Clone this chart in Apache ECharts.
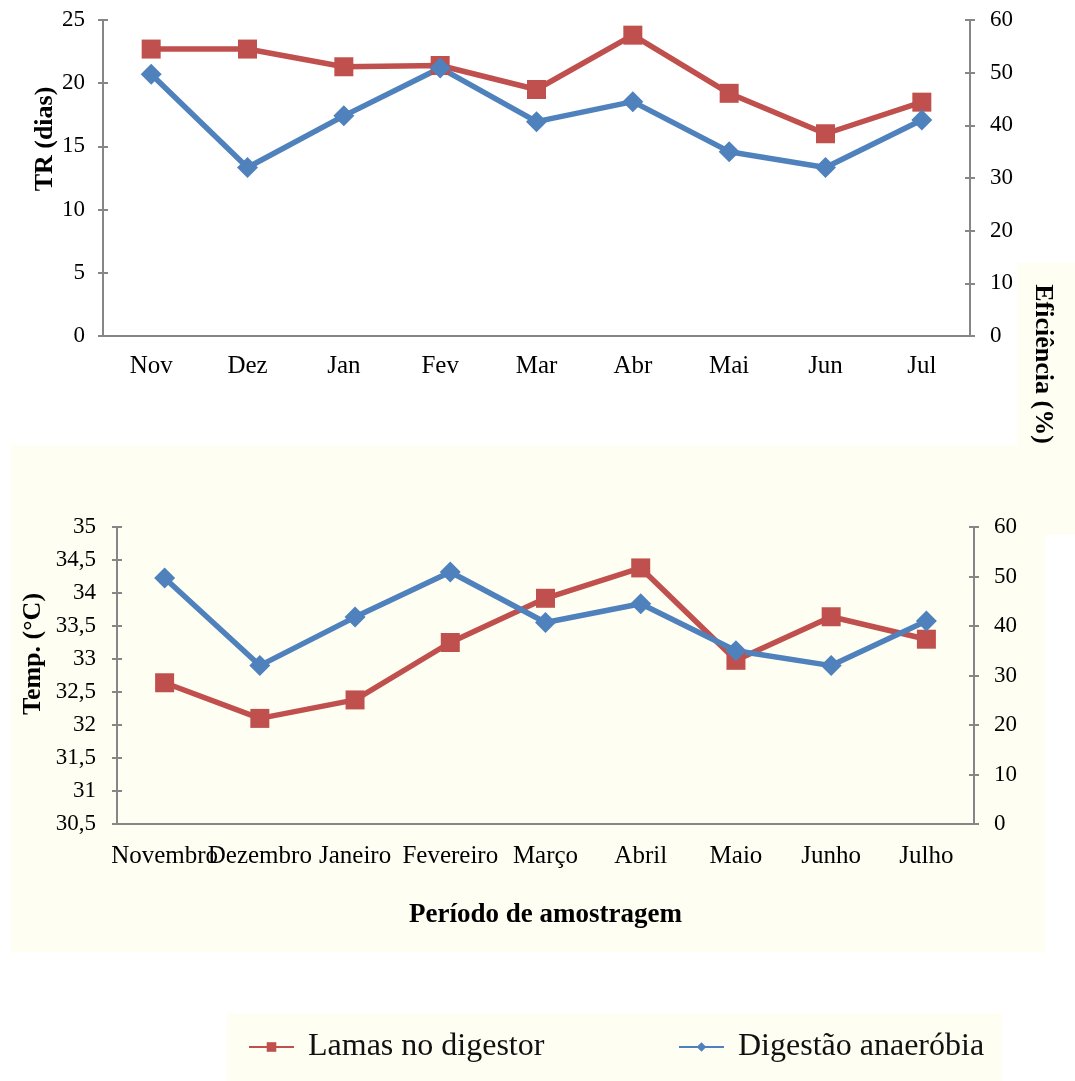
<!DOCTYPE html>
<html>
<head>
<meta charset="utf-8">
<script src="https://cdn.jsdelivr.net/npm/echarts@6/dist/echarts.min.js"></script>
<style>
  html, body { margin: 0; background: #fff; }
  #chart { width: 1075px; height: 1081px; }
</style>
</head>
<body>
<div id="chart"></div>
<script>
// Two stacked panels sharing the efficiency series: TR (top) and digester temperature (bottom).
const mesesCurtos = ['Nov', 'Dez', 'Jan', 'Fev', 'Mar', 'Abr', 'Mai', 'Jun', 'Jul'];
const mesesLongos = ['Novembro', 'Dezembro', 'Janeiro', 'Fevereiro', 'Março', 'Abril', 'Maio', 'Junho', 'Julho'];
const trDias = [22.7, 22.7, 21.3, 21.4, 19.5, 23.8, 19.2, 16.0, 18.5];
const tempLamas = [32.64, 32.1, 32.38, 33.25, 33.92, 34.38, 32.98, 33.64, 33.3];
const eficiencia = [49.7, 32.0, 41.8, 50.9, 40.7, 44.5, 35.0, 32.0, 41.0];
const serieNomes = ['Lamas no digestor', 'Digestão anaeróbia'];

const SERIF = '"Liberation Serif", "Times New Roman", serif';
const GREY = '#868686';
const RED = '#C0504D';
const BLUE = '#4F81BD';
const CREAM = '#FFFEF3';

const virgula = (v) => String(v).replace('.', ',');

// Excel-style "cross" ticks: one axis draws line, labels and outer ticks,
// a twin draws only the inner half of the ticks.
function eixoValor(grid, side, min, max, interval, margin, fmt) {
  return {
    type: 'value', gridIndex: grid, position: side, min, max, interval,
    axisLine: { show: true, lineStyle: { color: GREY, width: 2 } },
    axisTick: { show: true, length: 5, lineStyle: { color: GREY, width: 2 } },
    axisLabel: { color: '#000', fontFamily: SERIF, fontSize: 23, margin, formatter: fmt },
    splitLine: { show: false },
  };
}
function eixoTicksDentro(grid, side, min, max, interval) {
  return {
    type: 'value', gridIndex: grid, position: side, min, max, interval,
    axisLine: { show: false },
    axisTick: { show: true, inside: true, length: 5, lineStyle: { color: GREY, width: 2 } },
    axisLabel: { show: false },
    splitLine: { show: false },
  };
}
function eixoCategoria(grid, data, margin) {
  return {
    type: 'category', gridIndex: grid, data, boundaryGap: true,
    axisLine: { lineStyle: { color: GREY, width: 2 } },
    axisTick: { show: false },
    axisLabel: { interval: 0, color: '#000', fontFamily: SERIF, fontSize: 25, margin },
  };
}
function linha(name, color, symbol, x, y, data) {
  return {
    name, type: 'line', xAxisIndex: x, yAxisIndex: y, data,
    symbol, symbolSize: symbol === 'rect' ? 19 : 21,
    lineStyle: { width: 5.5, color }, itemStyle: { color },
    emphasis: { disabled: true },
  };
}
function titulo(text, x, y, rotation, size) {
  return {
    type: 'text', x, y, rotation, silent: true,
    style: { text, fontFamily: SERIF, fontWeight: 'bold', fontSize: size, fill: '#000', align: 'center', verticalAlign: 'middle' },
  };
}
function legenda(nome, left) {
  return {
    data: [nome], left, top: 1031, padding: 0,
    itemWidth: 45, itemHeight: 12,
    textStyle: { fontFamily: SERIF, fontSize: 32, color: '#111', padding: [0, 0, 0, 9] },
  };
}

const chart = echarts.init(document.getElementById('chart'), null, { renderer: 'canvas' });
chart.setOption({
  animation: false,
  backgroundColor: '#fff',
  grid: [
    { left: 103, top: 20, width: 867, height: 316, outerBoundsMode: 'none' },
    { left: 117, top: 527, width: 857, height: 297, outerBoundsMode: 'none' },
  ],
  xAxis: [
    eixoCategoria(0, mesesCurtos, 18),
    Object.assign(eixoCategoria(1, mesesLongos, 20), {
      name: 'Período de amostragem', nameLocation: 'middle', nameGap: 78,
      nameTextStyle: { fontFamily: SERIF, fontWeight: 'bold', fontSize: 27, color: '#000' },
    }),
  ],
  yAxis: [
    eixoValor(0, 'left', 0, 25, 5, 18),
    eixoValor(0, 'right', 0, 60, 10, 20),
    eixoTicksDentro(0, 'left', 0, 25, 5),
    eixoTicksDentro(0, 'right', 0, 60, 10),
    eixoValor(1, 'left', 30.5, 35, 0.5, 21, virgula),
    eixoValor(1, 'right', 0, 60, 10, 20),
    eixoTicksDentro(1, 'left', 30.5, 35, 0.5),
    eixoTicksDentro(1, 'right', 0, 60, 10),
  ],
  legend: [legenda(serieNomes[0], 248), legenda(serieNomes[1], 678)],
  series: [
    linha(serieNomes[0], RED, 'rect', 0, 0, trDias),
    linha(serieNomes[1], BLUE, 'diamond', 0, 1, eficiencia),
    linha(serieNomes[0], RED, 'rect', 1, 4, tempLamas),
    linha(serieNomes[1], BLUE, 'diamond', 1, 5, eficiencia),
  ],
  graphic: [
    { type: 'rect', z: -10, silent: true, shape: { x: 1017, y: 263, width: 58, height: 272 }, style: { fill: CREAM } },
    { type: 'rect', z: -10, silent: true, shape: { x: 11, y: 445, width: 1034, height: 507 }, style: { fill: CREAM } },
    { type: 'rect', z: -10, silent: true, shape: { x: 227, y: 1013, width: 775, height: 68 }, style: { fill: CREAM } },
    titulo('TR (dias)', 45, 139, Math.PI / 2, 26),
    titulo('Eficiência (%)', 1043, 364, -Math.PI / 2, 26),
    titulo('Temp. (°C)', 33, 654, Math.PI / 2, 26),
  ],
});
</script>
</body>
</html>
